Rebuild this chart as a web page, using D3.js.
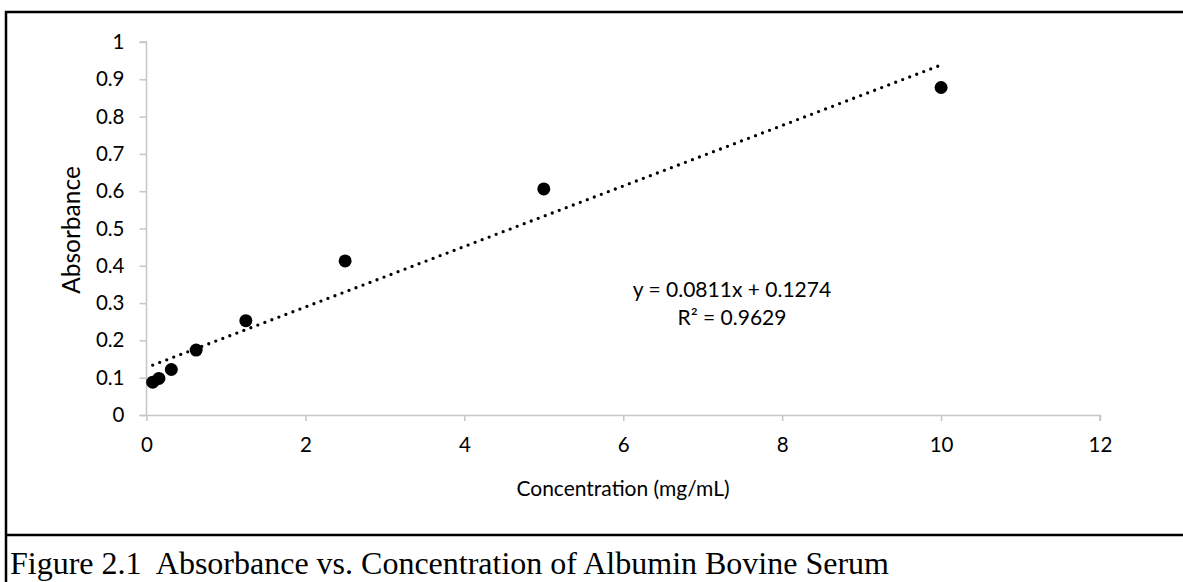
<!DOCTYPE html>
<html><head><meta charset="utf-8">
<script src="https://cdn.jsdelivr.net/npm/d3@7"></script>
<style>html,body{margin:0;padding:0;background:#fff;} svg{display:block;}</style>
</head><body>
<svg id="chart" width="1183" height="582"></svg>
<script>
const concentration = [0.078, 0.156, 0.3125, 0.625, 1.25, 2.5, 5, 10];
const absorbance = [0.088, 0.098, 0.122, 0.174, 0.253, 0.413, 0.606, 0.878];
const xTicks = [0, 2, 4, 6, 8, 10, 12];
const yTicks = [0, 0.1, 0.2, 0.3, 0.4, 0.5, 0.6, 0.7, 0.8, 0.9, 1];
const slope = 0.0811, intercept = 0.1274, r2 = 0.9629;
const xTitle = "Concentration (mg/mL)";
const yTitle = "Absorbance";
const caption = "Figure 2.1  Absorbance vs. Concentration of Albumin Bovine Serum";

const svg = d3.select("#chart");
const W = 1183, H = 582;
const font = "Lato, 'Open Sans', sans-serif";
const axisColor = "#c6c6c6";

const x = d3.scaleLinear().domain([0, 12]).range([146.5, 1100]);
const y = d3.scaleLinear().domain([0, 1]).range([415, 42]);

// frame
svg.append("path").attr("d", `M6,${H} V12 H${W}`).attr("fill", "none").attr("stroke", "#000").attr("stroke-width", 2.5);
svg.append("line").attr("x1", 6).attr("x2", W).attr("y1", 535).attr("y2", 535).attr("stroke", "#000").attr("stroke-width", 2.5);

// axes
const xAxis = d3.axisBottom(x).tickValues(xTicks).tickFormat(d3.format("d")).tickSizeInner(6).tickSizeOuter(6).tickPadding(16);
const gx = svg.append("g").attr("transform", `translate(0,${y(0)})`).call(xAxis);
const yAxis = d3.axisLeft(y).tickValues(yTicks).tickFormat(d => d3.format("~g")(d)).tickSizeInner(7).tickSizeOuter(7).tickPadding(15);
const gy = svg.append("g").attr("transform", `translate(${x(0)},0)`).call(yAxis);
[gx, gy].forEach(g => {
  g.selectAll("path, line").attr("stroke", axisColor).attr("stroke-width", 1.5);
  g.selectAll("text").attr("font-family", font).attr("font-size", 20.5).attr("fill", "#000");
});
gx.select(".domain").attr("d", `M${x(0)-7},0.5H${x(12)}V6`);
gy.select(".domain").attr("d", `M-7,${y(1)}H0V${y(0)}`);

// trendline
const xs = [d3.min(concentration), d3.max(concentration)];
svg.append("line")
  .attr("x1", x(xs[0])).attr("y1", y(slope * xs[0] + intercept))
  .attr("x2", x(xs[1])).attr("y2", y(slope * xs[1] + intercept))
  .attr("stroke", "#000").attr("stroke-width", 3.3)
  .attr("stroke-linecap", "round").attr("stroke-dasharray", "0 7.5");

// points
svg.append("g").selectAll("circle").data(concentration.map((c, i) => [c, absorbance[i]]))
  .join("circle").attr("cx", d => x(d[0])).attr("cy", d => y(d[1])).attr("r", 6.5).attr("fill", "#000");

// equation
const eq = svg.append("text").attr("font-family", font).attr("font-size", 21).attr("text-anchor", "middle").attr("fill", "#000");
eq.append("tspan").attr("x", 732).attr("y", 297).text(`y = ${slope}x + ${intercept}`);
eq.append("tspan").attr("x", 732).attr("y", 325).text(`R² = ${r2}`);

// axis titles
svg.append("text").attr("x", 623).attr("y", 496).attr("text-anchor", "middle")
  .attr("font-family", font).attr("font-size", 21).attr("fill", "#000").text(xTitle);
svg.append("text").attr("transform", "translate(80,230) rotate(-90)").attr("text-anchor", "middle")
  .attr("font-family", font).attr("font-size", 24.5).attr("fill", "#000").text(yTitle);

// caption
svg.append("text").attr("x", 10).attr("y", 574)
  .attr("font-family", "'Liberation Serif', 'Times New Roman', serif").attr("font-size", 32).attr("fill", "#000")
  .attr("xml:space", "preserve").style("white-space", "pre").text(caption);
</script>
</body></html>
